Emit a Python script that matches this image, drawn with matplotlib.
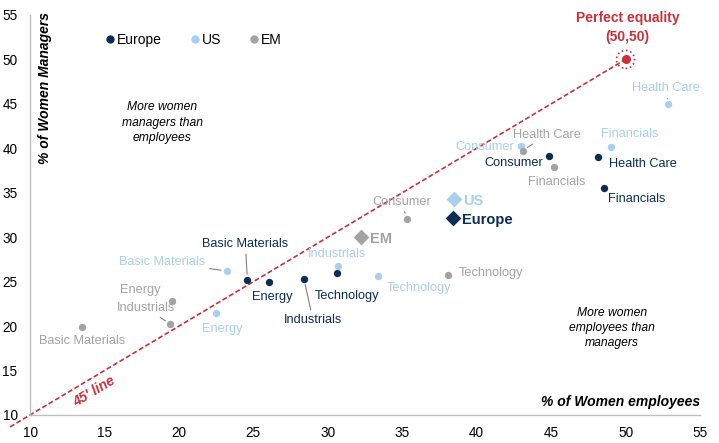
import matplotlib
matplotlib.use('Agg')
import matplotlib.pyplot as plt
from matplotlib.lines import Line2D

plt.rcParams['font.family'] = ['Liberation Sans', 'DejaVu Sans']

# sector data: x = % of women employees, y = % of women managers
eu_sectors = ['Basic Materials', 'Energy', 'Industrials', 'Technology', 'Consumer', 'Health Care', 'Financials']
eu_emp = [24.6, 26.05, 28.4, 30.6, 44.85, 48.15, 48.55]
eu_mgr = [25.2, 25.0, 25.3, 26.0, 39.1, 39.0, 35.5]

us_sectors = ['Basic Materials', 'Energy', 'Industrials', 'Technology', 'Consumer', 'Financials', 'Health Care']
us_emp = [23.2, 22.5, 30.7, 33.4, 43.0, 49.0, 52.85]
us_mgr = [26.2, 21.5, 26.8, 25.6, 40.3, 40.1, 44.95]

em_sectors = ['Basic Materials', 'Energy', 'Industrials', 'Technology', 'Consumer', 'Health Care', 'Financials']
em_emp = [13.5, 19.55, 19.4, 38.1, 35.3, 43.1, 45.2]
em_mgr = [19.9, 22.85, 20.25, 25.7, 32.1, 39.75, 37.85]

# regional aggregates
agg_names = ['Europe', 'US', 'EM']
agg_emp = [38.4, 38.5, 32.2]
agg_mgr = [32.2, 34.35, 30.05]

equality = 50

col = {'Europe': '#0B2D55', 'US': '#A9CFEE', 'EM': '#A3A3A3'}
red = '#C8323A'

# label offsets in pixels (dx, dy, leader line)
eu_off = {'Basic Materials': (-2, 36, True), 'Energy': (3, -15, False), 'Industrials': (9, -41, True),
          'Technology': (10, -23, False), 'Consumer': (-35, -7, False), 'Health Care': (45, -7, False),
          'Financials': (33, -11, False)}
us_off = {'Basic Materials': (-64, 9, True), 'Energy': (6, -16, False), 'Industrials': (-1, 12, False),
          'Technology': (41, -12, False), 'Consumer': (-37, -1, False), 'Financials': (19, 13, False),
          'Health Care': (-2, 16, True)}
em_off = {'Basic Materials': (0, -14, False), 'Energy': (-32, 11, False), 'Industrials': (-24, 16, True),
          'Technology': (43, 2, False), 'Consumer': (-5, 17, True), 'Health Care': (24, 16, True),
          'Financials': (3, -15, False)}

fig = plt.figure(figsize=(7.19, 4.43), dpi=100)
ax = fig.add_axes([30 / 719, 28 / 443, 670 / 719, 400 / 443])
ax.set_xlim(10, 55)
ax.set_ylim(10, 55)
ax.set_xticks(range(10, 56, 5))
ax.set_yticks(range(10, 56, 5))
ax.tick_params(length=0, labelsize=9.8)
ax.tick_params(axis='x', pad=8)
ax.tick_params(axis='y', pad=9)
for s in ['top', 'right']:
    ax.spines[s].set_visible(False)
for s in ['left', 'bottom']:
    ax.spines[s].set_color('#BFBFBF')
    ax.spines[s].set_linewidth(1)

# 45 degree line
ax.plot([8.66, equality], [8.66, equality], ls=(0, (3, 1.5)), color=red, lw=1.2, clip_on=False, zorder=2)
ax.scatter([equality], [equality], s=30, color=red, zorder=5)
ax.scatter([equality], [equality], s=170, facecolor='none', edgecolor=red, linestyle=':', lw=1.2, zorder=5)
ax.text(equality + 0.15, 53.55, 'Perfect equality\n(50,50)', color=red, fontsize=10, fontweight='bold',
        ha='center', va='center', linespacing=1.45)
ax.text(14.3, 12.6, "45' line", color=red, fontsize=10, fontweight='bold', fontstyle='italic',
        rotation=31, ha='center', va='center')


def draw_group(names, xs, ys, region, offs):
    c = col[region]
    ax.scatter(xs, ys, s=28, color=c, zorder=4, linewidths=0)
    for n, x, y in zip(names, xs, ys):
        dx, dy, lead = offs[n]
        ap = dict(arrowstyle='-', color='#808080', lw=0.8, shrinkA=1, shrinkB=4) if lead else None
        ax.annotate(n, (x, y), xytext=(dx, dy), textcoords='offset pixels', ha='center', va='center',
                    fontsize=9.2, color=c, arrowprops=ap, zorder=3)


draw_group(eu_sectors, eu_emp, eu_mgr, 'Europe', eu_off)
draw_group(us_sectors, us_emp, us_mgr, 'US', us_off)
draw_group(em_sectors, em_emp, em_mgr, 'EM', em_off)

for n, x, y in zip(agg_names, agg_emp, agg_mgr):
    ax.scatter([x], [y], marker='D', s=64, color=col[n], zorder=4, linewidths=0)
    ax.annotate(n, (x, y), xytext=(9, -2), textcoords='offset pixels',
                ha='left', va='center', fontsize=10.5, fontweight='bold', color=col[n])

# quadrant notes
ax.text(18.9, 42.9, 'More women\nmanagers than\nemployees', fontsize=8.7, fontstyle='italic',
        ha='center', va='center', linespacing=1.35)
ax.text(49.1, 19.75, 'More women\nemployees than\nmanagers', fontsize=8.7, fontstyle='italic',
        ha='center', va='center', linespacing=1.35)

ax.text(11.0, 55.3, '% of Women Managers', rotation=90, fontsize=10, fontweight='bold', fontstyle='italic',
        ha='center', va='top')
ax.text(55.0, 11.45, '% of Women employees', fontsize=10, fontweight='bold', fontstyle='italic',
        ha='right', va='center')

handles = [Line2D([], [], marker='o', ls='none', color=col[r], markersize=5) for r in agg_names]
ax.legend(handles, agg_names, ncol=3, frameon=False, loc='center left', bbox_to_anchor=(0.1, 0.937),
          fontsize=10, handletextpad=0.0, columnspacing=1.9, handlelength=1.0, borderaxespad=0)

fig.savefig('out.png', dpi=100)
